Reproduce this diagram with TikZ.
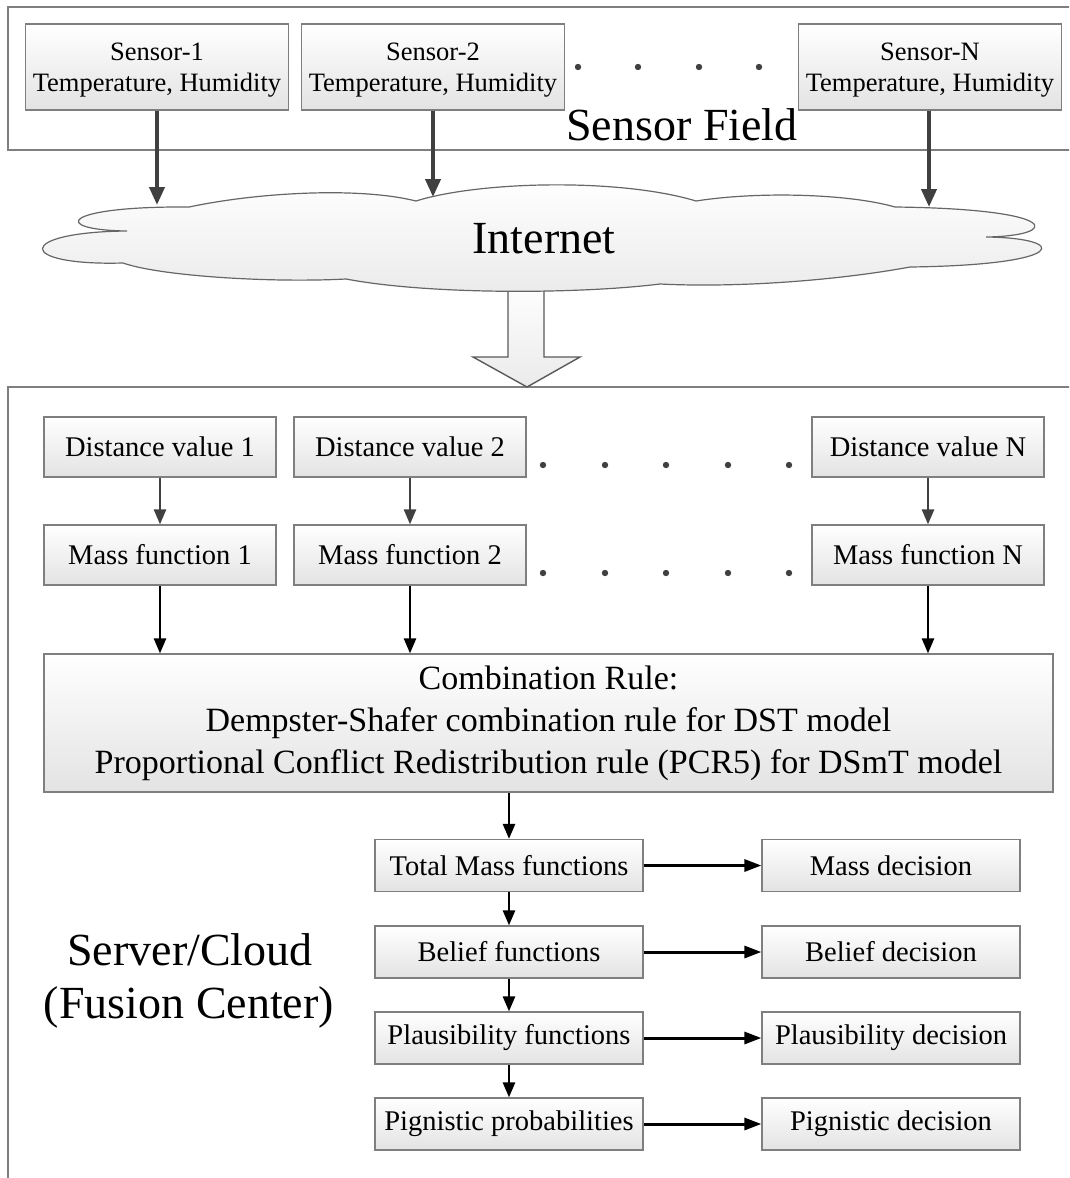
\documentclass[tikz,border=0pt]{standalone}
\usepackage{fontspec}
\setmainfont{Liberation Serif}
\usetikzlibrary{arrows.meta}
\definecolor{edgegray}{HTML}{7F7F7F}
\definecolor{darkarrow}{HTML}{404040}
\newcommand\fsSensor{\fontsize{26.5}{31}\selectfont}
\newcommand\fsBox{\fontsize{28.5}{32}\selectfont}
\newcommand\fsComb{\fontsize{34}{42}\selectfont}
\newcommand\fsBig{\fontsize{46}{53}\selectfont}
\begin{document}
\begin{tikzpicture}[x=1pt,y=-1pt,
  frame/.style={draw=edgegray, line width=1.2pt},
  gbox/.style={draw=edgegray, line width=1.2pt, top color=white, bottom color=black!11, inner sep=0pt, align=center},
  sbox/.style={gbox, minimum width=263pt, minimum height=86pt, font=\fsSensor, text depth=0pt},
  dbox/.style={gbox, minimum width=232pt, minimum height=60pt, font=\fsBox},
  lbox/.style={gbox, minimum width=268pt, minimum height=52pt, font=\fsBox},
  rbox/.style={gbox, minimum width=258pt, minimum height=52pt, font=\fsBox},
  bigtext/.style={font=\fsBig, inner sep=0pt, align=center},
  sarrow/.style={draw=darkarrow, line width=4pt, -{Triangle[width=15pt,length=18pt]}},
  darrow/.style={draw=darkarrow, line width=2.4pt, -{Triangle[width=12pt,length=15pt]}},
  karrow/.style={draw=black, line width=2.6pt, -{Triangle[width=12pt,length=15pt]}},
  harrow/.style={draw=black, line width=3pt, -{Triangle[width=12pt,length=17pt]}},
  hollow/.style={draw=black!65, line width=1.4pt, top color=white, bottom color=black!8, line join=miter},
  cloudshape/.style={draw=black!60, line width=1.2pt, top color=white, bottom color=black!8},
  dotstyle/.style={fill=darkarrow}
]
\useasboundingbox (0,0) rectangle (1069,1178);
\clip (0,0) rectangle (1069,1178);

% ---------- Sensor field ----------
\draw[frame] (8,7) rectangle (1085,150);
\node[sbox] (s1) at (157,67) {Sensor-1\\Temperature, Humidity};
\node[sbox] (s2) at (433,67) {Sensor-2\\Temperature, Humidity};
\node[sbox] (sn) at (930,67) {Sensor-N\\Temperature, Humidity};
\foreach \x in {578,638,699,759} \fill[dotstyle] (\x,67) circle (3.2);
\node[bigtext, anchor=base] (sf) at (682,140) {Sensor Field};

% ---------- Server box ----------
\draw[frame] (8,387) rectangle (1085,1195);

% ---------- hollow arrow ----------
\draw[hollow] (508,280) -- (508,357) -- (473,357) -- (527,387) -- (580,357) -- (544,357) -- (544,280);

% ---------- Cloud ----------
\draw[cloudshape] (189,207) .. controls (260,192) and (360,187) .. (416,201)
  .. controls (480,181) and (620,178) .. (696,201)
  .. controls (760,191) and (850,194) .. (895,207)
  .. controls (1065,209) and (1060,236) .. (986,237)
  .. controls (1070,238) and (1070,265) .. (910,267)
  .. controls (840,280) and (740,288) .. (660,284)
  .. controls (580,294) and (430,295) .. (346,279)
  .. controls (270,283) and (160,276) .. (123,263)
  .. controls (15,266) and (15,232) .. (127,231)
  .. controls (50,230) and (60,206) .. (189,207) -- cycle;
\node[bigtext, anchor=base] (inet) at (544,253) {Internet};

\coordinate (c1) at (157,205);
\coordinate (c2) at (433,197);
\coordinate (cn) at (929,207);
\draw[sarrow] (s1.south) -- (c1);
\draw[sarrow] (s2.south) -- (c2);
\draw[sarrow] (sn.south -| cn) -- (cn);

% ---------- Distance / mass ----------
\node[dbox] (d1) at (160,447) {Distance value 1};
\node[dbox] (d2) at (410,447) {Distance value 2};
\node[dbox] (dn) at (928,447) {Distance value N};
\node[dbox] (m1) at (160,555) {Mass function 1};
\node[dbox] (m2) at (410,555) {Mass function 2};
\node[dbox] (mn) at (928,555) {Mass function N};
\foreach \x in {543,605,666,728,789} {
  \fill[dotstyle] (\x,465) circle (3.2);
  \fill[dotstyle] (\x,573) circle (3.2);
}
\draw[darrow] (d1) -- (m1);
\draw[darrow] (d2) -- (m2);
\draw[darrow] (dn) -- (mn);

% ---------- Combination ----------
\node[gbox, minimum width=1009pt, minimum height=138pt, font=\fsComb] (comb) at (548.5,723)
  {Combination Rule:\\Dempster-Shafer combination rule for DST model\\Proportional Conflict Redistribution rule (PCR5) for DSmT model};
\draw[karrow] (m1.south) -- (m1.south |- comb.north);
\draw[karrow] (m2.south) -- (m2.south |- comb.north);
\draw[karrow] (mn.south) -- (mn.south |- comb.north);

% ---------- Decision chain ----------
\node[lbox] (tot) at (509,865.5) {Total Mass functions};
\node[lbox] (bel) at (509,952) {Belief functions};
\node[lbox] (pla) at (509,1038) {Plausibility functions};
\node[lbox] (pig) at (509,1124) {Pignistic probabilities};
\node[rbox] (mdec) at (891,865.5) {Mass decision};
\node[rbox] (bdec) at (891,952) {Belief decision};
\node[rbox] (pdec) at (891,1038) {Plausibility decision};
\node[rbox] (gdec) at (891,1124) {Pignistic decision};

\draw[karrow] (comb.south -| tot.north) -- (tot.north);
\draw[karrow] (tot) -- (bel);
\draw[karrow] (bel) -- (pla);
\draw[karrow] (pla) -- (pig);
\draw[harrow] (tot) -- (mdec);
\draw[harrow] (bel) -- (bdec);
\draw[harrow] (pla) -- (pdec);
\draw[harrow] (pig) -- (gdec);

\node[bigtext, anchor=base] (srv1) at (190,965) {Server/Cloud};
\node[bigtext, anchor=base] (srv2) at (189,1018) {(Fusion Center)};
\end{tikzpicture}
\end{document}
